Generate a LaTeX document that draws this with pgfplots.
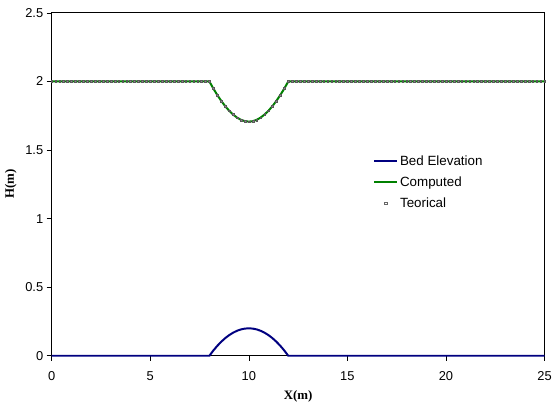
\documentclass[border=0pt]{standalone}
\usepackage{pgfplots}
\usepackage{pgfplotstable}
\pgfplotsset{compat=1.18}
\usepackage{fontspec}
\setmainfont{Liberation Sans}
\newfontfamily\serifb{Liberation Serif}
\definecolor{bedblue}{RGB}{0,0,128}
\definecolor{compgreen}{RGB}{0,128,0}
\pgfplotstableread{
x z h
0.0 0 2
0.2 0 2
0.4 0 2
0.6 0 2
0.8 0 2
1.0 0 2
1.2 0 2
1.4 0 2
1.6 0 2
1.8 0 2
2.0 0 2
2.2 0 2
2.4 0 2
2.6 0 2
2.8 0 2
3.0 0 2
3.2 0 2
3.4 0 2
3.6 0 2
3.8 0 2
4.0 0 2
4.2 0 2
4.4 0 2
4.6 0 2
4.8 0 2
5.0 0 2
5.2 0 2
5.4 0 2
5.6 0 2
5.8 0 2
6.0 0 2
6.2 0 2
6.4 0 2
6.6 0 2
6.8 0 2
7.0 0 2
7.2 0 2
7.4 0 2
7.6 0 2
7.8 0 2
8.0 0 2
8.2 0.038 1.9487
8.4 0.072 1.9016
8.6 0.102 1.8587
8.8 0.128 1.8205
9.0 0.150 1.7871
9.2 0.168 1.7592
9.4 0.182 1.7368
9.6 0.192 1.7206
9.8 0.198 1.7106
10.0 0.200 1.7073
10.2 0.198 1.7106
10.4 0.192 1.7206
10.6 0.182 1.7368
10.8 0.168 1.7592
11.0 0.150 1.7871
11.2 0.128 1.8205
11.4 0.102 1.8587
11.6 0.072 1.9016
11.8 0.038 1.9487
12.0 0 2
12.2 0 2
12.4 0 2
12.6 0 2
12.8 0 2
13.0 0 2
13.2 0 2
13.4 0 2
13.6 0 2
13.8 0 2
14.0 0 2
14.2 0 2
14.4 0 2
14.6 0 2
14.8 0 2
15.0 0 2
15.2 0 2
15.4 0 2
15.6 0 2
15.8 0 2
16.0 0 2
16.2 0 2
16.4 0 2
16.6 0 2
16.8 0 2
17.0 0 2
17.2 0 2
17.4 0 2
17.6 0 2
17.8 0 2
18.0 0 2
18.2 0 2
18.4 0 2
18.6 0 2
18.8 0 2
19.0 0 2
19.2 0 2
19.4 0 2
19.6 0 2
19.8 0 2
20.0 0 2
20.2 0 2
20.4 0 2
20.6 0 2
20.8 0 2
21.0 0 2
21.2 0 2
21.4 0 2
21.6 0 2
21.8 0 2
22.0 0 2
22.2 0 2
22.4 0 2
22.6 0 2
22.8 0 2
23.0 0 2
23.2 0 2
23.4 0 2
23.6 0 2
23.8 0 2
24.0 0 2
24.2 0 2
24.4 0 2
24.6 0 2
24.8 0 2
25.0 0 2
}\datatable
\begin{document}
\begin{tikzpicture}[x=1bp,y=1bp]
\begin{axis}[
  scale only axis,
  width=496bp, height=345bp,
  xmin=0, xmax=25, ymin=0, ymax=2.5,
  xtick={0,5,10,15,20,25},
  ytick={0,0.5,1,1.5,2,2.5},
  yticklabels={0,0.5,1,1.5,2,2.5},
  xticklabels={0,5,10,15,20,25},
  tick align=outside,
  major tick length=5bp,
  tick style={black, line width=0.6bp},
  axis line style={black, line width=0.9bp},
  ticklabel style={font=\fontsize{13}{15}\selectfont},
  xticklabel style={yshift=-7bp},
  xtick pos=bottom, ytick pos=left,
  xlabel={\serifb\bfseries X(m)},
  ylabel={\serifb\bfseries H(m)},
  label style={font=\fontsize{13}{15}\selectfont},
  xlabel style={yshift=-4bp},
  ylabel style={yshift=2bp},
  legend style={at={(0.646,0.596)}, anchor=north west, draw=none, fill=none,
    font=\fontsize{13.5}{15}\selectfont, row sep=6bp,
    /tikz/every even column/.append style={column sep=2bp}},
  legend cell align=left,
  legend image code/.code={\draw[#1] (0bp,0bp) -- (23bp,0bp);},
  clip=false,
]
\addplot[bedblue, line width=2bp, no markers] table[x=x,y=z]{\datatable};
\addlegendentry{Bed Elevation}
\addplot[compgreen, line width=2bp, no markers] table[x=x,y=h]{\datatable};
\addlegendentry{Computed}
\addplot[only marks, mark=square*, mark size=0.9bp, mark options={fill=black!45, draw=black!65, line width=0.3bp},
  legend image code/.code={\draw[mark=square*, mark size=1.3bp, mark options={fill=white, draw=black!60, line width=0.5bp}] plot coordinates {(11.5bp,0bp)};}]
  table[x=x,y=h]{\datatable};
\addlegendentry{Teorical}
\end{axis}
\path ([xshift=-52bp,yshift=-52bp]current axis.south west) rectangle ([xshift=7bp,yshift=13bp]current axis.north east);
\end{tikzpicture}
\end{document}
